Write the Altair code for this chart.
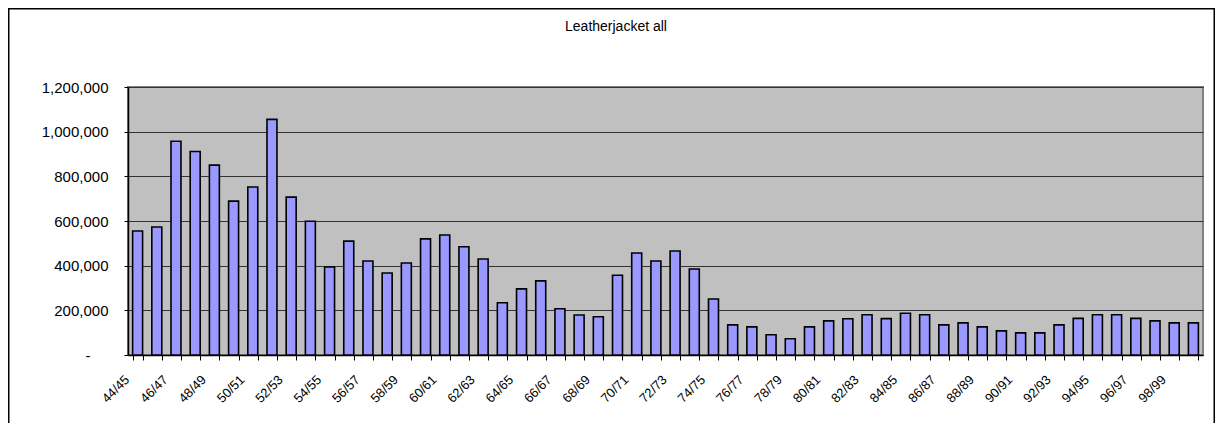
import altair as alt
import pandas as pd

seasons = ["44/45", "45/46", "46/47", "47/48", "48/49", "49/50", "50/51", "51/52", "52/53", "53/54",
           "54/55", "55/56", "56/57", "57/58", "58/59", "59/60", "60/61", "61/62", "62/63", "63/64",
           "64/65", "65/66", "66/67", "67/68", "68/69", "69/70", "70/71", "71/72", "72/73", "73/74",
           "74/75", "75/76", "76/77", "77/78", "78/79", "79/80", "80/81", "81/82", "82/83", "83/84",
           "84/85", "85/86", "86/87", "87/88", "88/89", "89/90", "90/91", "91/92", "92/93", "93/94",
           "94/95", "95/96", "96/97", "97/98", "98/99", "99/00"]
values = [555000, 573000, 957000, 911000, 850000, 689000, 752000, 1055000, 707000, 599000,
          394000, 510000, 421000, 367000, 412000, 520000, 537000, 485000, 430000, 234000,
          296000, 332000, 207000, 179000, 171000, 357000, 457000, 421000, 466000, 385000,
          251000, 135000, 126000, 91000, 73000, 126000, 153000, 162000, 180000, 163000,
          187000, 180000, 135000, 144000, 126000, 108000, 99000, 99000, 135000, 164000,
          180000, 180000, 164000, 153000, 144000, 144000]
y_ticks = [0, 200000, 400000, 600000, 800000, 1000000, 1200000]
title_text = ["Leatherjacket all"]

df = pd.DataFrame({"season": seasons, "value": values})

W, H = 1075, 268
PAD = {"left": 120, "top": 79, "right": 12, "bottom": 68}

bars = alt.Chart(df).mark_bar(fill="#9999FF", stroke="#000000", strokeWidth=1.6).encode(
    x=alt.X("season:N", sort=seasons,
            scale=alt.Scale(paddingInner=0.48, paddingOuter=0.24),
            axis=alt.Axis(title=None, labelAngle=-45,
                          labelExpr="parseInt(substring(datum.label,0,2)) % 2 == 0 ? datum.label : ''",
                          tickBand="extent", tickSize=5, tickColor="#000000", tickWidth=1,
                          domainColor="#000000", domainWidth=1.5,
                          labelFont="Liberation Sans", labelFontSize=13, labelColor="#000000",
                          labelOffset=-15, labelPadding=13, labelOverlap=False, labelFlush=False,
                          labelBound=False, grid=False)),
    y=alt.Y("value:Q", scale=alt.Scale(domain=[0, 1200000], nice=False, zero=True),
            axis=alt.Axis(title=None, values=y_ticks,
                          labelExpr="datum.value == 0 ? '-' : format(datum.value, ',')",
                          grid=True, gridColor="#333333", gridWidth=1,
                          tickSize=4, tickColor="#000000", domainColor="#000000", domainWidth=1.5,
                          labelPadding={"condition": {"test": "datum.value == 0", "value": 34}, "value": 16},
                          labelFont="Liberation Sans", labelFontSize=15,
                          labelColor="#000000", labelBaseline="middle"))
)

title = alt.Chart(pd.DataFrame({"t": title_text})).mark_text(
    font="Liberation Sans", fontSize=14, color="#000000", align="center", baseline="alphabetic"
).encode(text="t:N", x=alt.value(488), y=alt.value(-56))

frame = alt.Chart(pd.DataFrame({"f": [0]})).mark_rect(
    fillOpacity=0, stroke="#000000", strokeWidth=1.5
).encode(
    x=alt.value(-PAD["left"] + 0.75), x2=alt.value(W + PAD["right"] - 0.75),
    y=alt.value(-PAD["top"] + 0.75), y2=alt.value(H + 200)
)

chart = alt.layer(bars, title, frame).properties(
    width=W, height=H,
    padding=PAD,
    autosize=alt.AutoSizeParams(type="none"),
    background="#FFFFFF",
).configure_view(fill="#C0C0C0", stroke="#808080", strokeWidth=2)

chart.save("out.html", embed_options={"renderer": "svg", "actions": False})
